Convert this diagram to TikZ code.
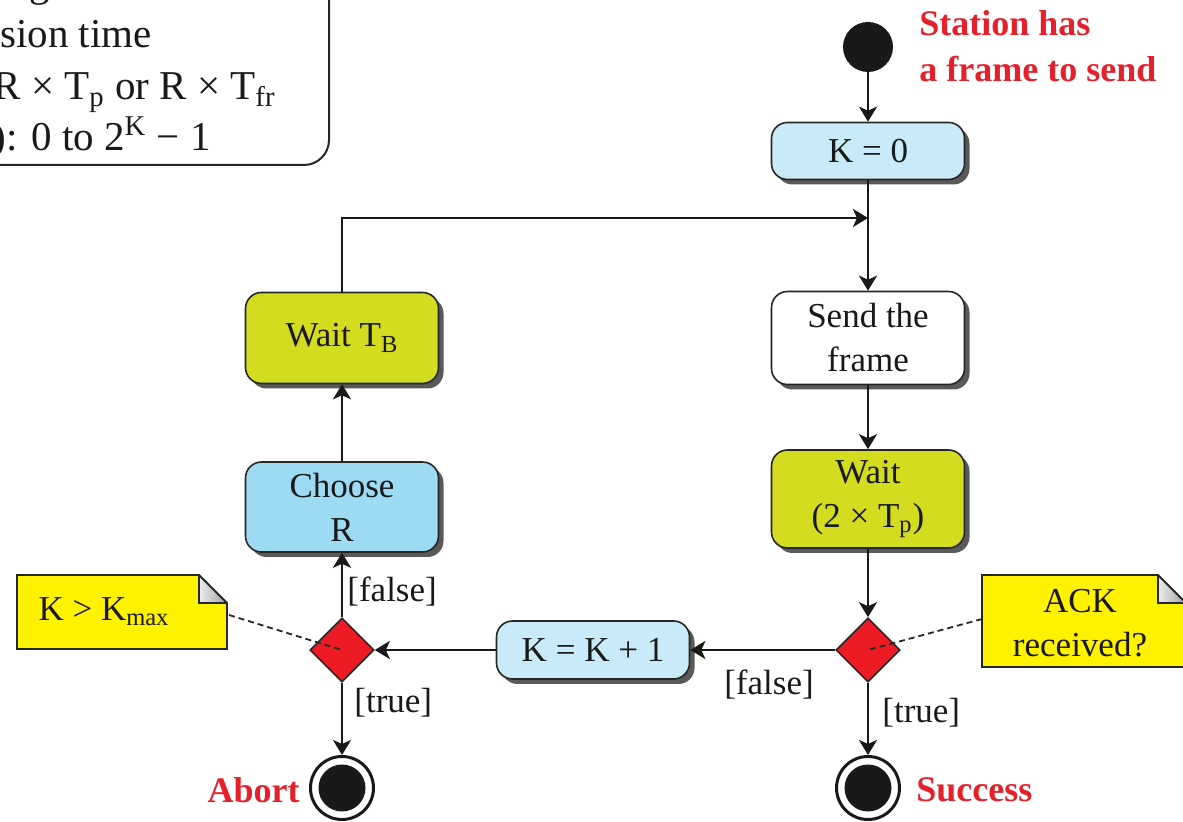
\documentclass[tikz,border=0pt]{standalone}
\usepackage{fontspec}
\IfFontExistsTF{LiberationSerif-Regular.ttf}
  {\setmainfont{LiberationSerif-Regular.ttf}[BoldFont=LiberationSerif-Bold.ttf, ItalicFont=LiberationSerif-Italic.ttf]}
  {\setmainfont{Liberation Serif}}
\usetikzlibrary{shapes.geometric,shadows,arrows.meta,calc,backgrounds}
\definecolor{paleblue}{HTML}{C9EAF8}
\definecolor{skyblue}{HTML}{9DDBF5}
\definecolor{waitgreen}{HTML}{D4DC1F}
\definecolor{noteyellow}{HTML}{FFF200}
\definecolor{decred}{HTML}{ED1C24}
\definecolor{labelred}{HTML}{E5202B}

\begin{document}
\begin{tikzpicture}[x=0.5pt,y=-0.5pt,
  every node/.style={font=\fontsize{17.5}{22}\selectfont, text=black!90},
  act/.style={draw=black!85, line width=0.8pt, rounded corners=8pt, align=center,
    inner sep=2pt, minimum width=96.5pt,
    drop shadow={shadow xshift=2.5pt, shadow yshift=-2.5pt, fill=black!65, opacity=1}},
  decision/.style={diamond, aspect=1, draw=black!85, fill=decred, line width=0.8pt,
    minimum width=32pt, minimum height=32pt, inner sep=0pt},
  initial/.style={circle, fill=black!90, minimum size=25pt, inner sep=0pt},
  final/.style={circle, draw=black!90, line width=1.5pt, fill=white, minimum size=31.5pt,
    inner sep=0pt, path picture={\fill[black!90] (path picture bounding box.center) circle (11.75pt);}},
  arr/.style={line width=1.4pt, draw=black!90, -{Stealth[length=7.5pt,width=9pt,inset=2pt]}},
  notetext/.style={align=center, inner sep=0pt},
  notelink/.style={dash pattern=on 3pt off 2pt, line width=0.9pt, draw=black!85},
  redlabel/.style={font=\bfseries\fontsize{18}{23}\selectfont, text=labelred, align=left, inner sep=0pt},
  guard/.style={inner sep=0pt},
  legendline/.style={anchor=base east, inner sep=0pt, font=\fontsize{20.5}{25}\selectfont}
]
\path[use as bounding box] (0,0) rectangle (1183,822);
\clip (0,0) rectangle (1183,822);

% legend box in the upper left corner
\draw[line width=1pt, draw=black!85, rounded corners=12.5pt] (-80,-80) rectangle (329,165);
\node[legendline] (lg1) at (215,-3) {T\textsubscript{p}: Maximum propagation time};
\node[legendline] (lg2) at (152,48) {T\textsubscript{fr}: Average transmission time};
\node[legendline] (lg3) at (276,100) {T\textsubscript{B}: (Back-off time): R × T\textsubscript{p} or R × T\textsubscript{fr}};
\node[legendline] (lg4) at (211,151) {R: (Random number): 0 to 2\textsuperscript{K} − 1};

% right column
\node[initial] (start) at (868,47) {};
\node[redlabel, anchor=west] (startlbl) at (919,46) {Station has\\a frame to send};
\node[act, fill=paleblue, minimum height=28.5pt] (k0) at (868,151) {K = 0};
\coordinate (merge) at (868,218);
\node[act, fill=white, minimum height=46.5pt] (send) at (868,338) {Send the\\frame};
\node[act, fill=waitgreen, minimum height=49pt] (wait2) at (868,499) {Wait\\(2 × T\textsubscript{p})};
\node[decision] (ack) at (868,650) {};
\node[final] (success) at (868,788) {};
\node[redlabel, anchor=west] (successlbl) at (916,790) {Success};

% bottom row and left column
\node[act, fill=paleblue, minimum height=29pt] (kinc) at (593,650) {K = K + 1};
\node[decision] (limit) at (342,650) {};
\node[final] (abort) at (342,788) {};
\node[redlabel, anchor=east] (abortlbl) at (300,790) {Abort};
\node[act, fill=skyblue, minimum height=45pt] (choose) at (342,507) {Choose\\R};
\node[act, fill=waitgreen, minimum height=45.5pt] (waitb) at (342,338) {Wait T\textsubscript{B}};

% notes with a folded corner
\node[notetext] (acknote) at (1080,623) {ACK\\received?};
\node[notetext] (limnote) at (104,612) {K > K\textsubscript{max}};
\coordinate (an-nw) at (982,575);
\coordinate (an-se) at (1186,667);
\coordinate (ln-nw) at (17,575);
\coordinate (ln-se) at (227,649);
\begin{scope}[on background layer]
  \foreach \nw/\se in {an-nw/an-se, ln-nw/ln-se}{
    \fill[noteyellow] (\nw) -- ($(\se|-\nw)+(-28,0)$) -- ($(\se|-\nw)+(0,28)$) -- (\se) -- (\nw|-\se) -- cycle;
    \shade[left color=gray!15, right color=gray!75] ($(\se|-\nw)+(-28,0)$) -- ($(\se|-\nw)+(-28,28)$) -- ($(\se|-\nw)+(0,28)$) -- cycle;
    \draw[line width=0.9pt, draw=black!85] (\nw) -- ($(\se|-\nw)+(-28,0)$) -- ($(\se|-\nw)+(0,28)$) -- (\se) -- (\nw|-\se) -- cycle;
    \draw[line width=0.7pt, draw=black!85] ($(\se|-\nw)+(-28,0)$) -- ($(\se|-\nw)+(-28,28)$) -- ($(\se|-\nw)+(0,28)$);
  }
\end{scope}

% connectors
\draw[arr] (start) -- (k0);
\draw[arr] (k0) -- (send);
\draw[arr] (send) -- (wait2);
\draw[arr] (wait2) -- (ack);
\draw[arr] (ack) -- (kinc);
\draw[arr] (ack) -- (success);
\draw[arr] (kinc) -- (limit);
\draw[arr] (limit) -- (choose);
\draw[arr] (limit) -- (abort);
\draw[arr] (choose) -- (waitb);
\draw[arr] (waitb.north) |- (merge);

% guard labels
\node[guard, anchor=west] (g1) at (347,592) {[false]};
\node[guard, anchor=west] (g2) at (354,703) {[true]};
\node[guard] (g3) at (769,685) {[false]};
\node[guard, anchor=west] (g4) at (882,713) {[true]};

% note links
\draw[notelink] (982,619) -- (ack.center);
\draw[notelink] (229,615) -- (limit.center);
\end{tikzpicture}
\end{document}
